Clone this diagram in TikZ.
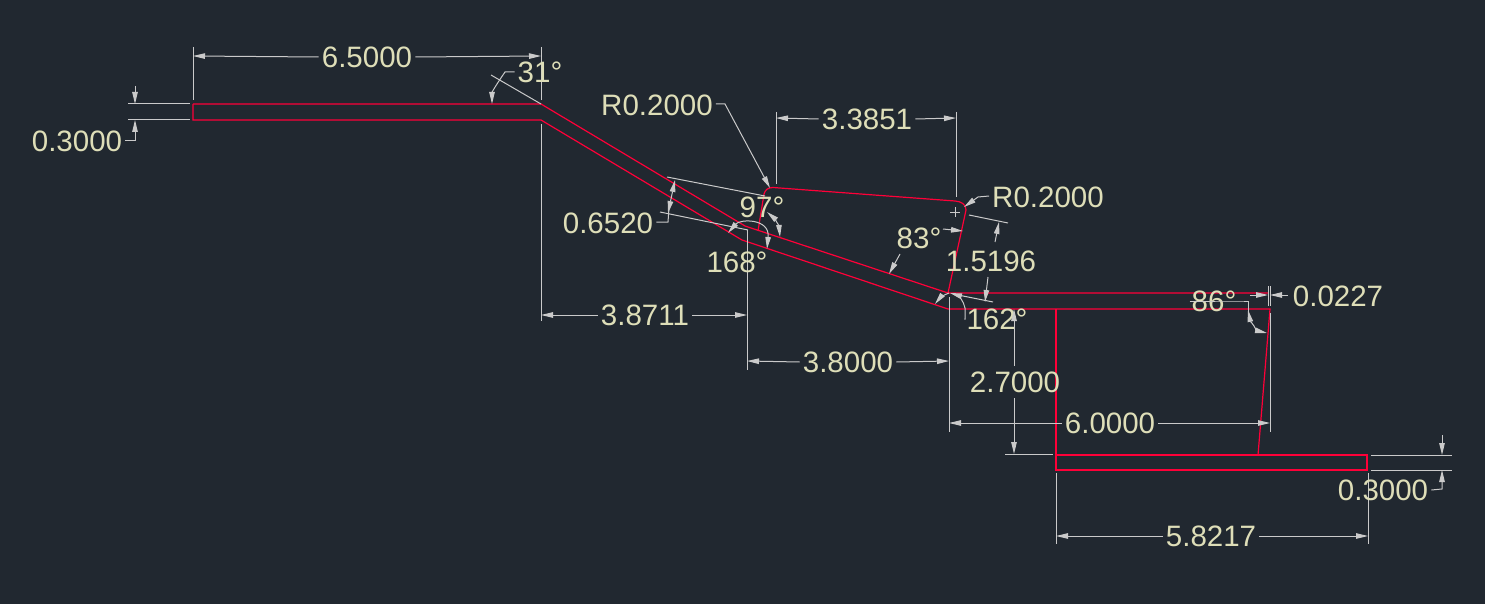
\documentclass[tikz,border=0pt]{standalone}
\usepackage{fontspec}
\setmainfont{Liberation Sans}
\usetikzlibrary{arrows.meta}
\definecolor{sheetbg}{HTML}{212830}
\definecolor{partred}{HTML}{FF0038}
\definecolor{dimgray}{HTML}{CACACA}
\definecolor{dimtext}{HTML}{DEDEB8}
\tikzset{
    part/.style={partred, line width=1.2pt},
    dimline/.style={dimgray, line width=1pt},
    dimtip/.style={dimline, -{Triangle[length=12pt, width=5.5pt]}},
    dimboth/.style={dimline, {Triangle[length=12pt, width=5.5pt]}-{Triangle[length=12pt, width=5.5pt]}},
    dimlabel/.style={dimtext, font=\fontsize{29.5}{29.5}\selectfont, inner sep=0pt}
}
\begin{document}
\begin{tikzpicture}[x=1pt, y=-1pt]
    \fill[sheetbg] (0,0) rectangle (1485,604);
    \useasboundingbox (0,0) rectangle (1485,604);

    % sheet outline
    \draw[part] (193,104) -- (541,104) -- (745,226) -- (948,293);
    \draw[part] (193,104) -- (193,120) -- (541,120) -- (742,240) -- (948,309) -- (1270,309) -- (1258,455);
    \draw[part] (758,231) -- (764,194) .. controls (765,190) and (768,187.5) .. (773,187.5) -- (955,201) .. controls (961,201.5) and (966,204) .. (966,210) -- (948,293) -- (1268,293);
    \draw[part] (1056,309) -- (1056,470) -- (1367,470) -- (1367,455) -- (1056,455);

    % extension lines
    \foreach \From/\To in {
        {193,47}/{193,100}, {541,47}/{541,100}, {541,124}/{541,321},
        {128,104}/{190,104}, {128,120}/{190,120},
        {541,104}/{491,75},
        {776,112}/{776,184}, {956,112}/{956,197},
        {667,177}/{765,196}, {660,212}/{748,230},
        {747,230}/{747,370}, {949,297}/{949,432},
        {969,215}/{1008,223}, {953,294}/{993,302},
        {1268,286}/{1268,306}, {1270,286}/{1270,306}, {1270,313}/{1270,432},
        {1005,454}/{1053,454},
        {1056,473}/{1056,544}, {1368,473}/{1368,544},
        {1371,455}/{1452,455}, {1371,470}/{1452,470}}{
        \draw[dimline] (\From) -- (\To);
    }

    % centre mark
    \draw[dimline] (950,212) -- (960,212) (955,207) -- (955,217);

    % dimension labels
    \node[dimlabel] (lenTop) at (367,57) {6.5000};
    \node[dimlabel] (angTop) at (540,72) {31°};
    \node[dimlabel] (thickLeft) at (77,141) {0.3000};
    \node[dimlabel] (radA) at (657,105) {R0.2000};
    \node[dimlabel] (lenWeb) at (867,119) {3.3851};
    \node[dimlabel] (radB) at (1048,197) {R0.2000};
    \node[dimlabel] (gapBend) at (608,223) {0.6520};
    \node[dimlabel] (angUpper) at (762,207) {97°};
    \node[dimlabel] (angLower) at (737,262) {168°};
    \node[dimlabel] (angInner) at (919,238) {83°};
    \node[dimlabel] (lenRise) at (991,261) {1.5196};
    \node[dimlabel] (angFoot) at (997,319) {162°};
    \node[dimlabel] (lenRun) at (645,315) {3.8711};
    \node[dimlabel] (lenSlope) at (848,362) {3.8000};
    \node[dimlabel] (lenDrop) at (1015,382) {2.7000};
    \node[dimlabel] (lenBase) at (1110,423) {6.0000};
    \node[dimlabel] (angRight) at (1214,301) {86°};
    \node[dimlabel] (offset) at (1338,296) {0.0227};
    \node[dimlabel] (thickRight) at (1383,490) {0.3000};
    \node[dimlabel] (lenFoot) at (1211,536) {5.8217};

    % straight dimensions, both tips
    \foreach \Label/\Near/\Far in {
        lenTop/{193,56}/{541,56}, lenWeb/{776,118}/{956,118},
        lenRun/{541,315}/{747,315}, lenSlope/{747,361}/{949,361},
        lenFoot/{1056,536}/{1368,536}}{
        \draw[dimtip] (\Label.west) ++(-3,0) -- (\Near);
        \draw[dimtip] (\Label.east) ++(3,0) -- (\Far);
    }
    \draw[dimtip] (lenBase.west) ++(-3,0) -- (949,423);
    \draw[dimtip] (lenBase.east) ++(3,0) -- (1270,423);
    \draw[dimtip] (1014,366) -- (1014,309);
    \draw[dimtip] (1014,398) -- (1014,454);
    \draw[dimtip] (995,242) -- (999,222);
    \draw[dimtip] (988,277) -- (985,302);

    % thickness and offset dimensions, with leaders
    \draw[dimtip] (135,86) -- (135,104);
    \draw[dimtip] (thickLeft.east) ++(3,0) -- (135,141) -- (135,120);
    \draw[dimtip] (1442,435) -- (1442,455);
    \draw[dimtip] (thickRight.east) ++(3,0) -- (1442,489) -- (1442,470);
    \draw[dimtip] (1250,295) -- (1268,295);
    \draw[dimtip] (offset.west) ++(-5,-1) -- (1270,295);
    \draw[dimboth] (668,213) -- (675,180);
    \draw[dimline] (gapBend.east) ++(3,-1) -- (668,222) -- (669,208);

    % radius leaders
    \draw[dimtip] (radA.east) ++(3,-1) -- (725,104) -- (770,188);
    \draw[dimtip] (radB.west) ++(-3,-1) -- (978,197) -- (964,207);

    % angle arcs
    \draw[dimtip] (angTop.west) ++(-3,0) -- (505,72) .. controls (498,82) and (492,92) .. (492,104);
    \draw[dimboth] (767,212) .. controls (774,218) and (779,226) .. (780,237);
    \draw[dimboth] (728,233) .. controls (740,219) and (770,218) .. (767,249);
    \draw[dimtip] (943,229) -- (963,231);
    \draw[dimtip] (900,254) -- (889,274);
    \draw[dimtip] (949,293) .. controls (943,295) and (939,299) .. (935,304);
    \draw[dimtip] (angFoot.west) ++(-2,0) -- (965,319) -- (965,308) .. controls (964,301) and (957,295) .. (950,293);
    \draw[dimline] (angRight.west) ++(-2,0) -- (1240,301) -- (1248,301) -- (1248,312);
    \draw[dimboth] (1248,310) .. controls (1250,320) and (1258,331) .. (1267,333);
\end{tikzpicture}
\end{document}
